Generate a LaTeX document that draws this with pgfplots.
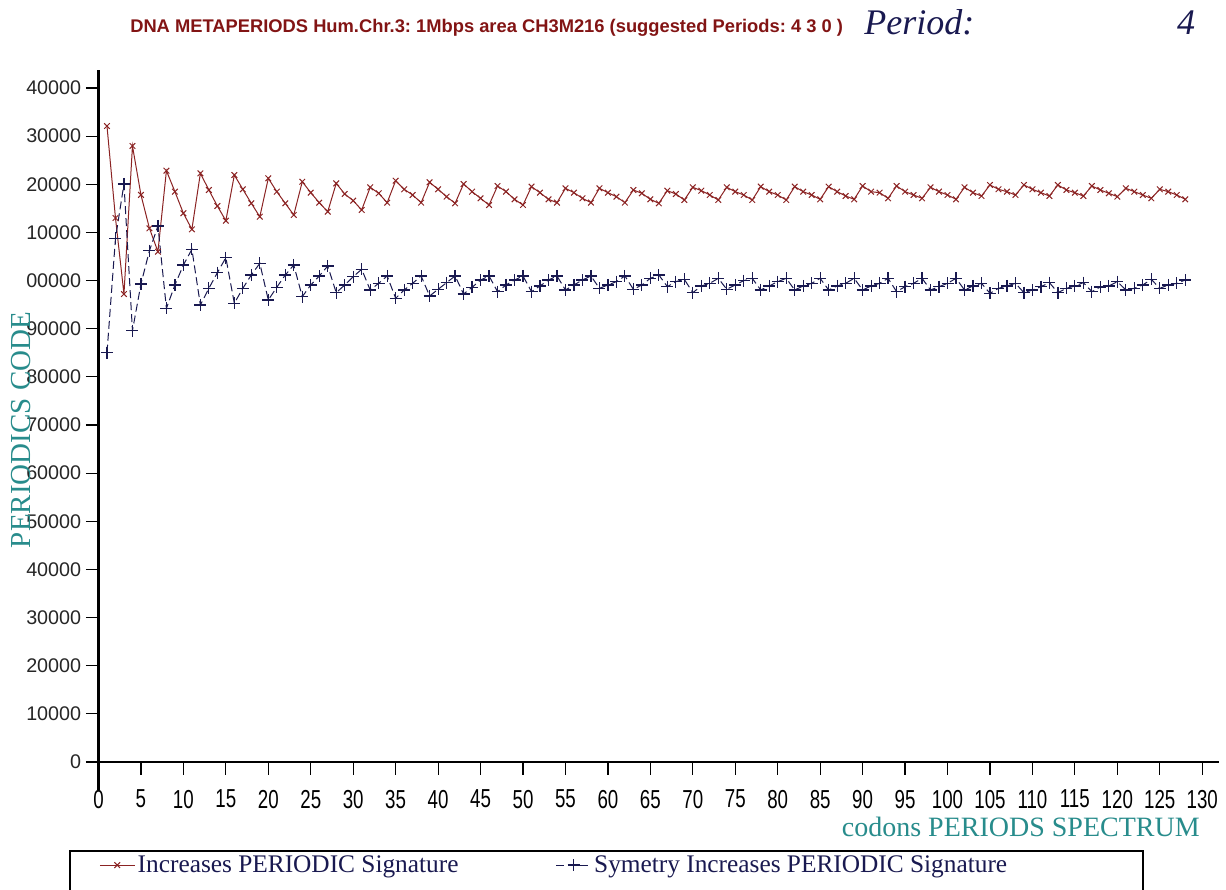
\documentclass[border=0pt]{standalone}
\usepackage{fontspec}
\setmainfont{Liberation Serif}
\setsansfont{Liberation Sans}
\newfontfamily\narrowsans[FakeStretch=0.72]{Liberation Sans}
\newfontfamily\boldsans{Liberation Sans Bold}
\usepackage{pgfplots}
\pgfplotsset{compat=1.18}

\definecolor{sigred}{RGB}{139,35,35}
\definecolor{signavy}{RGB}{25,25,80}
\definecolor{labteal}{RGB}{40,140,140}
\definecolor{titlered}{RGB}{130,20,20}
\def\px{0.75pt}
\frenchspacing

\begin{document}
\begin{tikzpicture}
\begin{axis}[
    at={({98.5*\px},{-762*\px})}, anchor=south west,
    scale only axis, width={1120.7*\px}, height={691.8*\px},
    xmin=0, xmax=132, ymin=0, ymax=143700,
    axis x line*=bottom, axis y line*=left,
    axis line style={-, line width=2.2pt},
    xtick pos=bottom, ytick pos=left,
    tick align=outside, major tick length=9.5pt,
    tick style={line width=0.9pt, black},
    xtick={0,5,...,130},
    xticklabel style={font=\narrowsans\fontsize{19.5pt}{20pt}\selectfont, yshift=-8pt},
    xticklabel={\pgfmathprintnumber[assume math mode=true]{\tick}},
    ytick={0,10000,...,140000},
    yticklabels={0,10000,20000,30000,40000,50000,60000,70000,80000,90000,00000,10000,20000,30000,40000},
    yticklabel style={font=\sffamily\fontsize{14.8pt}{16pt}\selectfont, color=black!85},
    scaled y ticks=false,
    clip=false,
    legend style={at={(-0.003,-0.149)}, anchor=west, draw=none, fill=none,
        font=\fontsize{19pt}{20pt}\selectfont, text=signavy,
        legend columns=2,
        /tikz/every even column/.append style={column sep=71pt}},
    legend image code/.code={\draw[mark repeat=2,mark phase=2,#1]
        plot coordinates {(0pt,0pt) (13pt,0pt) (26pt,0pt)};},
]
\addplot[color=sigred, line width=0.75pt, mark=x, mark size=3pt,
    mark options={line width=0.75pt, solid}] coordinates {
(1,132100) (2,113000) (3,97200) (4,127960) (5,117800) (6,110860) (7,106000) (8,122830)
(9,118470) (10,113980) (11,110650) (12,122280) (13,118820) (14,115490) (15,112440) (16,121930)
(17,118960) (18,116050) (19,113270) (20,121240) (21,118470) (22,116050) (23,113630) (24,120540)
(25,118260) (26,116180) (27,114310) (28,120200) (29,117990) (30,116600) (31,114670) (32,119380)
(33,118130) (34,116190) (35,120750) (36,118960) (37,117780) (38,116190) (39,120420) (40,118960)
(41,117430) (42,116050) (43,120070) (44,118470) (45,117090) (46,115700) (47,119650) (48,118470)
(49,116880) (50,115700) (51,119510) (52,118260) (53,116880) (54,116190) (55,119170) (56,118260)
(57,117090) (58,116190) (59,119170) (60,118260) (61,117430) (62,116190) (63,118820) (64,118130)
(65,116880) (66,116050) (67,118680) (68,117990) (69,116740) (70,119380) (71,118680) (72,117780)
(73,116740) (74,119380) (75,118470) (76,117780) (77,116740) (78,119510) (79,118470) (80,117780)
(81,116740) (82,119510) (83,118470) (84,117780) (85,116880) (86,119510) (87,118470) (88,117570)
(89,116880) (90,119650) (91,118470) (92,118260) (93,117090) (94,119650) (95,118470) (96,117780)
(97,117090) (98,119380) (99,118470) (100,117780) (101,116880) (102,119380) (103,118260) (104,117570)
(105,119860) (106,118960) (107,118470) (108,117780) (109,119860) (110,118960) (111,118260) (112,117570)
(113,119860) (114,118820) (115,118260) (116,117570) (117,119650) (118,118820) (119,118130) (120,117430)
(121,119170) (122,118470) (123,117780) (124,117090) (125,118960) (126,118470) (127,117780) (128,116880)
};
\addlegendentry{Increases PERIODIC Signature}
\addplot[color=signavy, line width=0.75pt, dash pattern=on 6pt off 3pt, mark=+, mark size=4.5pt,
    mark options={line width=0.9pt, solid}] coordinates {
(1,85020) (2,108780) (3,120070) (4,89600) (5,99300) (6,106210) (7,111340) (8,94240)
(9,99080) (10,103240) (11,106500) (12,94930) (13,98400) (14,101640) (15,104760) (16,95280)
(17,98400) (18,101160) (19,103590) (20,95970) (21,98610) (22,101160) (23,103240) (24,96660)
(25,99080) (26,100950) (27,103030) (28,97490) (29,99080) (30,100810) (31,102350) (32,98050)
(33,99430) (34,100960) (35,96320) (36,98050) (37,99430) (38,100960) (39,96800) (40,98190)
(41,99570) (42,100960) (43,97220) (44,98600) (45,100120) (46,100960) (47,97700) (48,99090)
(49,100120) (50,100960) (51,97700) (52,98880) (53,100120) (54,100960) (55,98050) (56,99090)
(57,100120) (58,100960) (59,98390) (60,99090) (61,99780) (62,100960) (63,98190) (64,99090)
(65,100470) (66,101160) (67,98740) (68,99780) (69,100260) (70,97490) (71,98880) (72,99430)
(73,100470) (74,98190) (75,99090) (76,99990) (77,100470) (78,98050) (79,98880) (80,99780)
(81,100470) (82,98050) (83,98880) (84,99430) (85,100470) (86,98050) (87,98880) (88,99430)
(89,100470) (90,98050) (91,98880) (92,99430) (93,100470) (94,97700) (95,98740) (96,99430)
(97,100470) (98,98050) (99,98740) (100,99430) (101,100470) (102,98050) (103,98880) (104,99430)
(105,97350) (106,98390) (107,98880) (108,99430) (109,97490) (110,98050) (111,98740) (112,99570)
(113,97490) (114,98390) (115,98880) (116,99570) (117,97700) (118,98670) (119,98880) (120,99780)
(121,98050) (122,98390) (123,99090) (124,100260) (125,98390) (126,99090) (127,99430) (128,100120)
};
\addlegendentry{Symetry Increases PERIODIC Signature}
% axis line overhangs at the origin
\draw[line width=2.2pt] (axis cs:0,0) -- (axis cs:0,-5800);
\draw[line width=2.2pt] (axis cs:-1.24,0) -- (axis cs:0,0);
\end{axis}

% title
\node[anchor=base west, inner sep=0pt, text=titlered, font=\boldsans\fontsize{13.75pt}{16pt}\selectfont]
    at ({130*\px},{-32*\px}) {DNA METAPERIODS Hum.Chr.3: 1Mbps area CH3M216 (suggested Periods: 4 3 0 )};
\node[anchor=base west, inner sep=0pt, text=signavy, font=\itshape\fontsize{27pt}{28pt}\selectfont]
    at ({864*\px},{-34*\px}) {Period:};
\node[anchor=base, inner sep=0pt, text=signavy, font=\itshape\fontsize{27pt}{28pt}\selectfont]
    at ({1186*\px},{-34*\px}) {4};
% axis titles
\node[rotate=90, inner sep=0pt, text=labteal, font=\fontsize{21.75pt}{24pt}\selectfont]
    at ({21*\px},{-430*\px}) {PERIODICS CODE};
\node[anchor=base east, inner sep=0pt, text=labteal, font=\fontsize{21pt}{24pt}\selectfont]
    at ({1200*\px},{-836*\px}) {codons PERIODS SPECTRUM};
% legend frame (bottom edge falls outside the picture)
\draw[line width=2.2pt] ({70*\px},{-905*\px}) -- ({70*\px},{-851*\px})
    -- ({1143*\px},{-851*\px}) -- ({1143*\px},{-905*\px});

\pgfresetboundingbox
\useasboundingbox (0,0) rectangle ({1226*\px},{-889*\px});
\end{tikzpicture}
\end{document}
